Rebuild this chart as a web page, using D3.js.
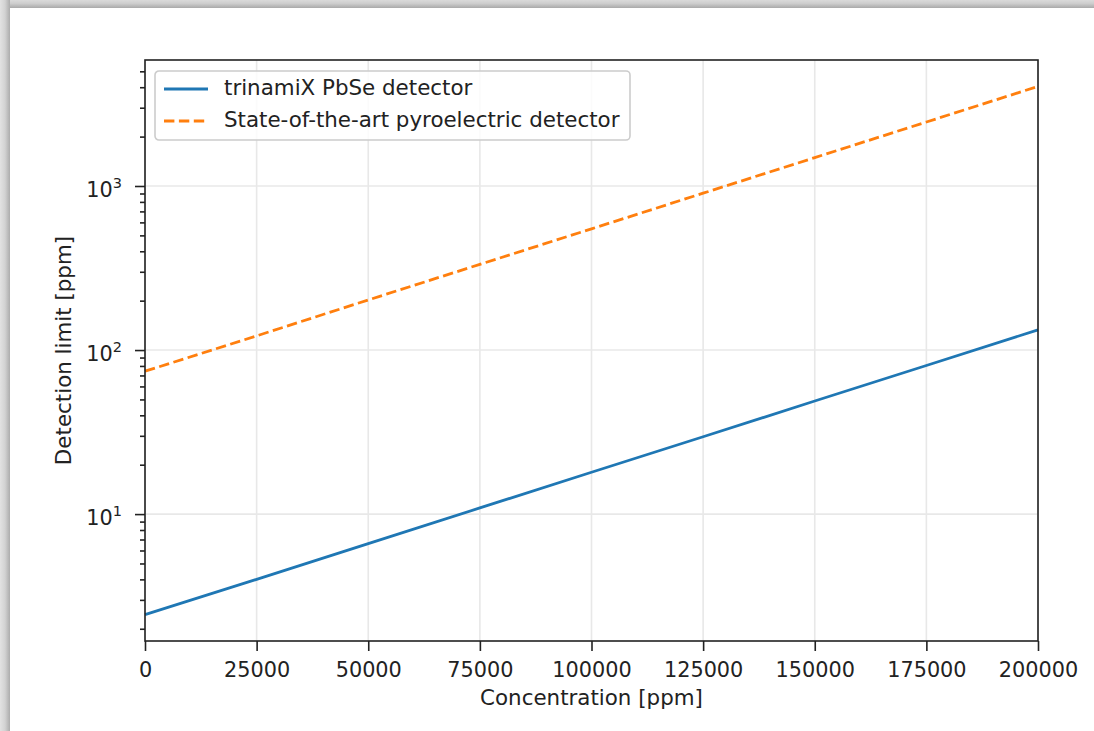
<!DOCTYPE html>
<html>
<head>
<meta charset="utf-8">
<script src="https://cdn.jsdelivr.net/npm/d3@7"></script>
<style>
body { margin: 0; background: #fff; }
svg { display: block; font-family: "DejaVu Sans", sans-serif; }
</style>
</head>
<body>
<svg width="1094" height="731"></svg>
<script>

// values
var concentration = [0, 25000, 50000, 75000, 100000, 125000, 150000, 175000, 200000];
var pbse = [2.44, 4.0, 6.6, 10.9, 18.0, 29.6, 48.9, 80.5, 132.7];
var pyro = [74.3, 122, 202, 333, 548, 904, 1489, 2455, 4046];
var seriesNames = ["trinamiX PbSe detector", "State-of-the-art pyroelectric detector"];
var xTicks = [0, 25000, 50000, 75000, 100000, 125000, 150000, 175000, 200000];
var yMajor = [10, 100, 1000];

var svg = d3.select("svg"),
    margin = {top: 60, right: 56, bottom: 90, left: 145},
    width = 1038 - margin.left,
    height = 641 - margin.top;

// grey frame round the picture
var defs = svg.append("defs");
var gTop = defs.append("linearGradient").attr("id", "gtop")
    .attr("x1", 0).attr("y1", 0).attr("x2", 0).attr("y2", 1);
gTop.append("stop").attr("offset", "0%").attr("stop-color", "#dadada");
gTop.append("stop").attr("offset", "45%").attr("stop-color", "#cdcdcd");
gTop.append("stop").attr("offset", "100%").attr("stop-color", "#a9a9a9");
var gLeft = defs.append("linearGradient").attr("id", "gleft")
    .attr("x1", 0).attr("y1", 0).attr("x2", 1).attr("y2", 0);
gLeft.append("stop").attr("offset", "0%").attr("stop-color", "#e2e2e2");
gLeft.append("stop").attr("offset", "50%").attr("stop-color", "#d2d2d2");
gLeft.append("stop").attr("offset", "100%").attr("stop-color", "#acacac");

svg.append("rect").attr("x", 0).attr("y", 0).attr("width", 1094).attr("height", 8)
    .attr("fill", "url(#gtop)");
svg.append("rect").attr("x", 0).attr("y", 0).attr("width", 10).attr("height", 731)
    .attr("fill", "url(#gleft)");

var g = svg.append("g").attr("transform", "translate(" + margin.left + "," + margin.top + ")");

var x = d3.scaleLinear()
    .domain([0, 200000])
    .range([0, width]);

// matplotlib style 5% margin in log space
var lo = Math.log10(d3.min(pbse)), hi = Math.log10(d3.max(pyro)), pad = (hi - lo) * 0.05;
var y = d3.scaleLog()
    .domain([Math.pow(10, lo - pad), Math.pow(10, hi + pad)])
    .range([height, 0]);

var yMinor = [];
[1, 10, 100, 1000].forEach(function(d) {
  for (var k = 2; k <= 9; k++) {
    var v = k * d;
    if (v >= y.domain()[0] && v <= y.domain()[1]) yMinor.push(v);
  }
});

// grid
g.append("g").selectAll("line").data(xTicks).enter().append("line")
    .attr("x1", function(d) { return x(d); }).attr("x2", function(d) { return x(d); })
    .attr("y1", 0).attr("y2", height)
    .attr("stroke", "#e8e8e8").attr("stroke-width", 1.6);
g.append("g").selectAll("line").data(yMajor).enter().append("line")
    .attr("y1", function(d) { return y(d); }).attr("y2", function(d) { return y(d); })
    .attr("x1", 0).attr("x2", width)
    .attr("stroke", "#e8e8e8").attr("stroke-width", 1.6);

// lines
var line = d3.line()
    .x(function(d) { return x(d[0]); })
    .y(function(d) { return y(d[1]); });

g.append("path")
    .datum(d3.zip(concentration, pbse))
    .attr("d", line)
    .attr("fill", "none")
    .attr("stroke", "#1f77b4")
    .attr("stroke-width", 2.8);

g.append("path")
    .datum(d3.zip(concentration, pyro))
    .attr("d", line)
    .attr("fill", "none")
    .attr("stroke", "#ff7f0e")
    .attr("stroke-width", 2.8)
    .attr("stroke-dasharray", "10.4,4.5");

// axes
var xAxis = g.append("g")
    .attr("transform", "translate(0," + height + ")")
    .call(d3.axisBottom(x).tickValues(xTicks).tickSize(10).tickPadding(11.5)
      .tickFormat(d3.format("d")));

var yAxis = g.append("g")
    .call(d3.axisLeft(y).tickValues(yMajor).tickSize(10).tickPadding(13)
      .tickFormat(function() { return "10"; }));

yAxis.selectAll(".tick text")
    .attr("dy", "0.5em")
  .append("tspan")
    .attr("dy", -9)
    .text(function(d) { return Math.round(Math.log10(d)); });

var yMinorAxis = g.append("g")
    .call(d3.axisLeft(y).tickValues(yMinor).tickSize(5).tickFormat(""));
yMinorAxis.select(".domain").remove();

[xAxis, yAxis, yMinorAxis].forEach(function(a) {
  a.selectAll(".tick line").attr("stroke", "#222").attr("stroke-width", 1.6);
  a.selectAll(".tick text").attr("fill", "#222").attr("font-size", 20.8)
      .attr("font-family", "DejaVu Sans, sans-serif");
  a.select(".domain").remove();
});
yAxis.selectAll(".tick text tspan").attr("font-size", 14.5);

// frame
g.append("rect")
    .attr("width", width).attr("height", height)
    .attr("fill", "none").attr("stroke", "#222").attr("stroke-width", 1.6);

// labels
svg.append("text")
    .attr("x", margin.left + width / 2).attr("y", 705)
    .attr("text-anchor", "middle").attr("font-size", 21.4).attr("fill", "#222")
    .text("Concentration [ppm]");

svg.append("text")
    .attr("transform", "translate(70.5," + (margin.top + height / 2) + ") rotate(-90)")
    .attr("text-anchor", "middle").attr("font-size", 21.4).attr("fill", "#222")
    .text("Detection limit [ppm]");

// legend
var legend = svg.append("g").attr("transform", "translate(155,71)");
legend.append("rect")
    .attr("width", 475).attr("height", 69).attr("rx", 4)
    .attr("fill", "#fff").attr("fill-opacity", 0.8)
    .attr("stroke", "#cccccc").attr("stroke-width", 1.6);

var entries = [
  {name: seriesNames[0], color: "#1f77b4", dash: null},
  {name: seriesNames[1], color: "#ff7f0e", dash: "10.4,4.5"}
];
var item = legend.selectAll(".item").data(entries).enter().append("g")
    .attr("transform", function(d, i) { return "translate(0," + (18 + i * 32) + ")"; });
item.append("line")
    .attr("x1", 9).attr("x2", 53)
    .attr("stroke", function(d) { return d.color; })
    .attr("stroke-width", 2.8)
    .attr("stroke-dasharray", function(d) { return d.dash; });
item.append("text")
    .attr("x", 69).attr("y", 6)
    .attr("font-size", 21.4).attr("fill", "#222")
    .text(function(d) { return d.name; });

</script>
</body>
</html>
